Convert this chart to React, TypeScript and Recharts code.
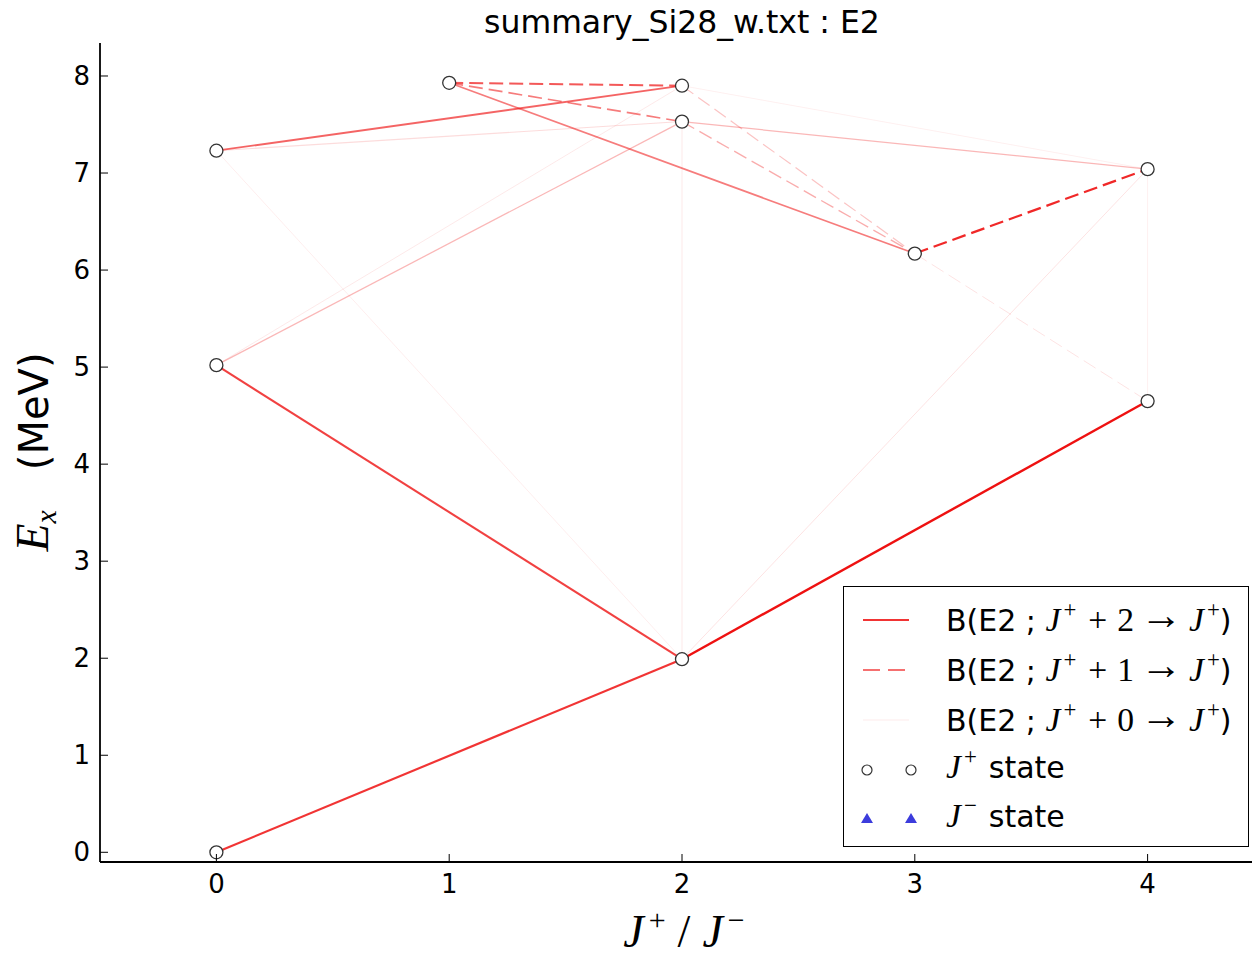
import React from 'react';
import { ComposedChart, Line, Scatter, XAxis, YAxis, Legend } from 'recharts';

// levels of Si28 (J, Ex in MeV)
const stateJ = [0, 2, 4, 0, 3, 4, 0, 2, 2, 1];
const stateE = [0.0, 1.99, 4.65, 5.02, 6.17, 7.04, 7.23, 7.53, 7.9, 7.93];

// J+2 -> J transitions (index into states), relative strength
const plus2From = [0, 1, 3, 6, 9, 6, 3, 3, 6, 1, 7, 8];
const plus2To = [1, 2, 1, 8, 4, 7, 7, 8, 1, 5, 5, 5];
const plus2B = [0.85, 1.0, 0.8, 0.65, 0.55, 0.15, 0.3, 0.1, 0.08, 0.12, 0.3, 0.07];

// J+1 -> J transitions
const plus1From = [9, 9, 8, 7, 4, 4];
const plus1To = [8, 7, 4, 4, 5, 2];
const plus1B = [0.7, 0.55, 0.25, 0.35, 0.9, 0.12];

// J+0 -> J transitions
const plus0From = [1, 2];
const plus0To = [7, 5];
const plus0B = [0.1, 0.07];

const xTicks = [0, 1, 2, 3, 4];
const yTicks = [0, 1, 2, 3, 4, 5, 6, 7, 8];

const SANS = 'DejaVu Sans';
const SERIF = 'Liberation Serif';
const RED = '#ee1111';

const states = stateJ.map((j, i) => ({ j, e: stateE[i] }));

const makeLines = (from: number[], to: number[], b: number[], dash?: string) =>
  from.map((f, i) => ({
    key: `${dash ? 'd' : 's'}${i}-${f}-${to[i]}`,
    data: [states[f], states[to[i]]],
    alpha: b[i],
    dash,
  }));

const transitions = [
  ...makeLines(plus0From, plus0To, plus0B),
  ...makeLines(plus2From, plus2To, plus2B),
  ...makeLines(plus1From, plus1To, plus1B, '14 6'),
];

const LeftTick = (props: any) => {
  const { x, y, payload } = props;
  return (
    <g>
      <line x1={x} x2={x + 8} y1={y} y2={y} stroke="#000" strokeWidth={1} />
      <text x={x - 10} y={y + 9} textAnchor="end" fontSize={26} fontFamily={SANS} fill="#000">
        {payload.value}
      </text>
    </g>
  );
};

const BottomTick = (props: any) => {
  const { x, y, payload } = props;
  return (
    <g>
      <line x1={x} x2={x} y1={y} y2={y - 8} stroke="#000" strokeWidth={1} />
      <text x={x} y={y + 31} textAnchor="middle" fontSize={26} fontFamily={SANS} fill="#000">
        {payload.value}
      </text>
    </g>
  );
};

const TopTick = (props: any) => {
  const { x, y } = props;
  return <line x1={x} x2={x} y1={y} y2={y + 8} stroke="#000" strokeWidth={1} />;
};

const J = ({ s }: { s: string }) => (
  <span style={{ fontFamily: SERIF, fontStyle: 'italic', fontSize: '1.12em' }}>
    J
    <span style={{ fontStyle: 'normal', fontSize: '0.68em', position: 'relative', top: '-0.6em', marginLeft: 3 }}>{s}</span>
  </span>
);

const LegendRow = ({ top, sample, children }: { top: number; sample: React.ReactNode; children: React.ReactNode }) => (
  <div style={{ position: 'absolute', left: 0, top: top - 25, height: 50, width: '100%' }}>
    <svg width={70} height={50} style={{ position: 'absolute', left: 14, top: 0 }}>
      {sample}
    </svg>
    <div style={{ position: 'absolute', left: 102, top: -3, height: 50, lineHeight: '50px', whiteSpace: 'nowrap' }}>
      {children}
    </div>
  </div>
);

const BLabel = ({ n }: { n: number }) => (
  <>
    B(E2 ; <J s="+" />
    <span style={{ fontFamily: SERIF, fontSize: '1.12em', margin: '0 10px 0 12px' }}>+</span>
    <span style={{ fontFamily: SERIF, fontSize: '1.12em' }}>{n}</span>
    <span style={{ fontFamily: SERIF, fontSize: '1.4em', margin: '0 7px 0 6px', position: 'relative', top: '-2px' }}>→</span>
    <J s="+" />)
  </>
);

const LegendBox = () => (
  <div
    style={{
      position: 'relative',
      width: 406,
      height: 261,
      border: '1.5px solid #000',
      boxSizing: 'border-box',
      background: '#fff',
      fontFamily: SANS,
      fontSize: 30,
      color: '#000',
    }}
  >
    <LegendRow top={33} sample={<line x1={5} x2={51} y1={25} y2={25} stroke={RED} strokeOpacity={0.85} strokeWidth={2} />}>
      <BLabel n={2} />
    </LegendRow>
    <LegendRow
      top={83}
      sample={<line x1={5} x2={51} y1={25} y2={25} stroke={RED} strokeOpacity={0.8} strokeWidth={1.6} strokeDasharray="17 8" />}
    >
      <BLabel n={1} />
    </LegendRow>
    <LegendRow top={133} sample={<line x1={5} x2={51} y1={25} y2={25} stroke={RED} strokeOpacity={0.08} strokeWidth={1} />}>
      <BLabel n={0} />
    </LegendRow>
    <LegendRow
      top={183}
      sample={
        <>
          <circle cx={9} cy={25} r={5} fill="#fff" stroke="#333" strokeWidth={1.2} />
          <circle cx={53} cy={25} r={5} fill="#fff" stroke="#333" strokeWidth={1.2} />
        </>
      }
    >
      <J s="+" />
      <span style={{ marginLeft: 12 }}>state</span>
    </LegendRow>
    <LegendRow
      top={232}
      sample={
        <>
          <polygon points="9,19 15,29 3,29" fill="#3c3cdc" />
          <polygon points="53,19 59,29 47,29" fill="#3c3cdc" />
        </>
      }
    >
      <J s="−" />
      <span style={{ marginLeft: 12 }}>state</span>
    </LegendRow>
  </div>
);

const StateDot = (props: any) => (
  <circle cx={props.cx} cy={props.cy} r={6.5} fill="#fff" stroke="#333" strokeWidth={1.3} />
);

export default function App() {
  return (
    <div style={{ position: 'absolute', left: 0, top: 0, width: 1252, height: 960, overflow: 'hidden', background: '#fff' }}>
      <ComposedChart width={1280} height={960} margin={{ top: 43, right: 16, bottom: 0, left: 0 }}>
        <XAxis
          dataKey="j"
          type="number"
          domain={[-0.5, 4.5]}
          ticks={xTicks}
          height={98}
          tickSize={0}
          tickMargin={0}
          tickLine={false}
          tick={<BottomTick />}
          axisLine={{ stroke: '#000', strokeWidth: 1.8 }}
          allowDataOverflow
        />
        <XAxis
          xAxisId="top"
          orientation="top"
          dataKey="j"
          type="number"
          domain={[-0.5, 4.5]}
          ticks={xTicks}
          height={0}
          tickSize={0}
          tickMargin={0}
          tickLine={false}
          tick={<TopTick />}
          axisLine={{ stroke: '#000', strokeWidth: 1.8 }}
          allowDataOverflow
        />
        <YAxis
          dataKey="e"
          type="number"
          domain={[-0.1, 8.34]}
          ticks={yTicks}
          width={100}
          tickSize={0}
          tickMargin={0}
          tickLine={false}
          tick={<LeftTick />}
          axisLine={{ stroke: '#000', strokeWidth: 1.8 }}
          allowDataOverflow
        />
        {transitions.map((t) => (
          <Line
            key={t.key}
            data={t.data}
            dataKey="e"
            type="linear"
            stroke={RED}
            strokeOpacity={t.alpha}
            strokeWidth={0.8 + 1.6 * t.alpha}
            strokeDasharray={t.dash}
            dot={false}
            activeDot={false}
            legendType="none"
            isAnimationActive={false}
          />
        ))}
        <Scatter data={states} dataKey="e" shape={<StateDot />} legendType="none" isAnimationActive={false} />
        <Legend
          layout="horizontal"
          verticalAlign="middle"
          align="center"
          content={() => <LegendBox />}
          wrapperStyle={{ left: 843, top: 586, width: 406, height: 261 }}
        />
        <text x={682} y={33} textAnchor="middle" fontSize={31.5} fontFamily={SANS} fill="#000">
          summary_Si28_w.txt : E2
        </text>
        <text x={684} y={947} textAnchor="middle" fontSize={46} fontFamily={SERIF} fontStyle="italic" fill="#000">
          J<tspan fontSize={30} dx={5} dy={-17} fontStyle="normal">+</tspan>
          <tspan dx={12} dy={17} fontStyle="normal">/</tspan>
          <tspan dx={12}>J</tspan>
          <tspan fontSize={30} dx={5} dy={-17} fontStyle="normal">−</tspan>
        </text>
        <text
          x={48}
          y={452}
          textAnchor="middle"
          transform="rotate(-90 48 452)"
          fontSize={40}
          fontFamily={SANS}
          fill="#000"
        >
          <tspan fontFamily={SERIF} fontStyle="italic" fontSize={46}>E</tspan>
          <tspan fontFamily={SERIF} fontStyle="italic" fontSize={30} dy={8}>x</tspan>
          <tspan dy={-8}>{'\u2002\u2002'}(MeV)</tspan>
        </text>
      </ComposedChart>
    </div>
  );
}
